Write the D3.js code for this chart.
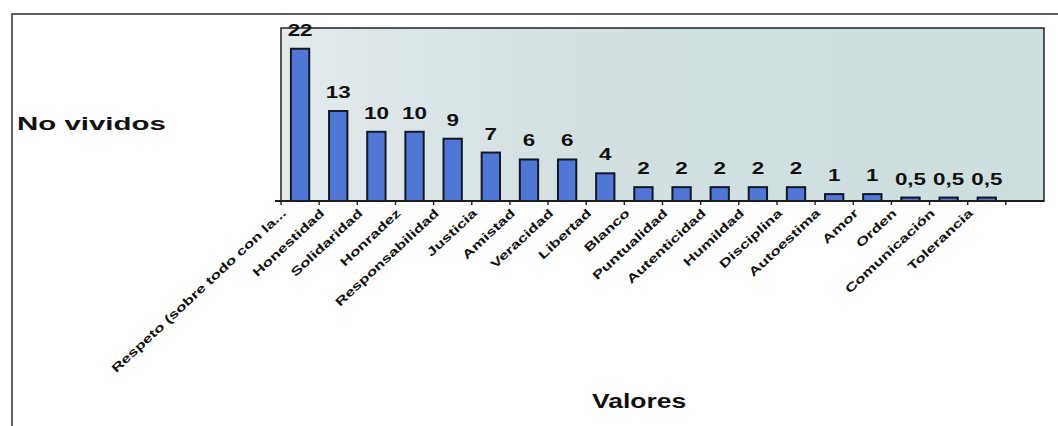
<!DOCTYPE html>
<html>
<head>
<meta charset="utf-8">
<script src="https://cdn.jsdelivr.net/npm/d3@7"></script>
<style>
	body { margin: 0; background: #ffffff; }
	svg { display: block; font-family: 'Liberation Sans', Arial, sans-serif; }
</style>
</head>
<body>
<script>
'use strict';

// Values
const categories = ['Respeto (sobre todo con la...', 'Honestidad', 'Solidaridad', 'Honradez', 'Responsabilidad',
	'Justicia', 'Amistad', 'Veracidad', 'Libertad', 'Blanco', 'Puntualidad', 'Autenticidad', 'Humildad',
	'Disciplina', 'Autoestima', 'Amor', 'Orden', 'Comunicación', 'Tolerancia'];
const values = [22, 13, 10, 10, 9, 7, 6, 6, 4, 2, 2, 2, 2, 2, 1, 1, 0.5, 0.5, 0.5];
const yDomain = [0, 25];
const yTitle = 'No vividos';
const xTitle = 'Valores';

const W = 1058, H = 426;
const plot = { left: 281, right: 1044, top: 28, bottom: 201 };

const fmt = d3.formatLocale({ decimal: ',', thousands: '.', grouping: [3], currency: ['', ''] }).format('~g');

let svg = d3.select('body').append('svg').attr('width', W).attr('height', H);

// Excel leaves one empty slot at the end of the category axis
let xScale = d3.scaleBand()
	.domain(categories.concat(['']))
	.range([plot.left, plot.right])
	.paddingInner(0.52)
	.paddingOuter(0.26);
let yScale = d3.scaleLinear().domain(yDomain).range([plot.bottom, plot.top]);
let step = xScale.step();
let cx = (d) => xScale(d) + xScale.bandwidth() / 2;

// outer frame
svg.append('rect').attr('x', 12).attr('y', 14).attr('width', W).attr('height', H)
	.attr('fill', 'none').attr('stroke', '#3a3a3a').attr('stroke-width', 1.6);

// plot area with a soft grey-teal fill
let grad = svg.append('defs').append('linearGradient').attr('id', 'bg').attr('x1', 0).attr('x2', 1).attr('y1', 0).attr('y2', 0);
grad.append('stop').attr('offset', 0).attr('stop-color', '#e2eaec');
grad.append('stop').attr('offset', 0.4).attr('stop-color', '#d2e0e2');
grad.append('stop').attr('offset', 1).attr('stop-color', '#cddede');
svg.append('rect')
	.attr('x', plot.left).attr('y', plot.top)
	.attr('width', plot.right - plot.left).attr('height', plot.bottom - plot.top)
	.attr('fill', 'url(#bg)').attr('stroke', '#2e2e2e').attr('stroke-width', 1.6);

// bars
svg.append('g').selectAll('rect')
	.data(values)
	.enter()
	.append('rect')
	.attr('x', (d, i) => xScale(categories[i]))
	.attr('y', (d) => yScale(d))
	.attr('width', xScale.bandwidth())
	.attr('height', (d) => yScale(0) - yScale(d))
	.attr('fill', '#5077d6')
	.attr('stroke', '#141826')
	.attr('stroke-width', 2);

// category axis: line + ticks between categories
let axis = svg.append('g');
axis.append('line').attr('x1', plot.left - 6).attr('x2', plot.right)
	.attr('y1', plot.bottom).attr('y2', plot.bottom)
	.attr('stroke', '#1e1e1e').attr('stroke-width', 2);
axis.selectAll('line.tick')
	.data(xScale.domain())
	.enter()
	.append('line')
	.attr('class', 'tick')
	.attr('x1', (d) => cx(d) - step / 2).attr('x2', (d) => cx(d) - step / 2)
	.attr('y1', plot.bottom).attr('y2', plot.bottom + 4)
	.attr('stroke', '#1e1e1e').attr('stroke-width', 1.4);

// rotated category labels (the scan is stretched sideways, hence the scale)
axis.selectAll('text')
	.data(categories)
	.enter()
	.append('text')
	.attr('transform', (d) => 'translate(' + (cx(d) - 16) + ',' + (plot.bottom + 10) + ') rotate(-43) scale(1.42,1)')
	.attr('text-anchor', 'end')
	.attr('dy', '0.35em')
	.attr('font-size', 12)
	.attr('font-weight', 'bold')
	.attr('fill', '#111')
	.text((d) => d);

// value labels
svg.append('g').selectAll('text')
	.data(values)
	.enter()
	.append('text')
	.attr('transform', (d, i) => 'translate(' + cx(categories[i]) + ',' + (yScale(d) - 13) + ') scale(1.4,1)')
	.attr('text-anchor', 'middle')
	.attr('font-size', 16)
	.attr('font-weight', 'bold')
	.attr('fill', '#111')
	.text((d) => fmt(d));

// titles
svg.append('text').text(yTitle)
	.attr('transform', 'translate(17, 130) scale(1.55,1)')
	.attr('font-size', 19).attr('font-weight', 'bold').attr('fill', '#111');
svg.append('text').text(xTitle)
	.attr('transform', 'translate(592, 408) scale(1.26,1)')
	.attr('font-size', 21).attr('font-weight', 'bold').attr('fill', '#111');
</script>
</body>
</html>
